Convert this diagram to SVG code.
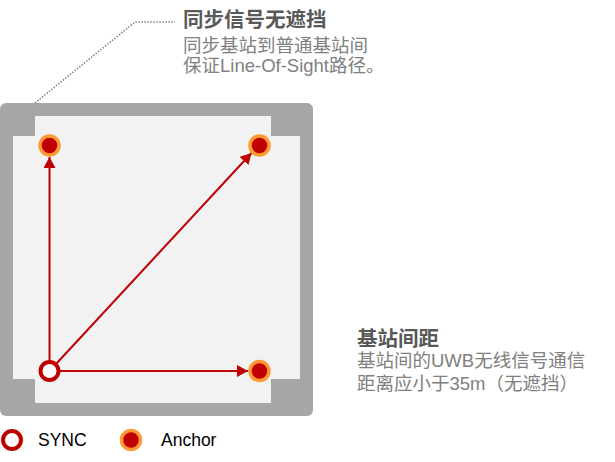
<svg xmlns="http://www.w3.org/2000/svg" width="615" height="462" viewBox="0 0 615 462">
<defs>
<style>
.wall{fill:#A6A6A6}
.room{fill:#F2F2F2}
.link{stroke:#C00000;stroke-width:2;fill:none}
.anchor{fill:#C00000;stroke:#FF9933;stroke-width:3.5}
.sync{fill:#FFFFFF;stroke:#C00000;stroke-width:4}
.h{font-family:"Liberation Sans","Noto Sans CJK SC",sans-serif;font-weight:bold;font-size:20.5px;fill:#595959}
.b{font-family:"Liberation Sans","Noto Sans CJK SC",sans-serif;font-size:18.5px;fill:#808080}
.lg{font-family:"Liberation Sans",Arial,sans-serif;font-size:17.5px;fill:#000}
</style>
<marker id="ah" markerWidth="12" markerHeight="12" viewBox="0 0 12 12" refX="11" refY="6" orient="auto" markerUnits="userSpaceOnUse">
<path d="M0,0 L11,6 L0,12 Z" fill="#C00000"/>
</marker>
</defs>
<g id="floor">
<rect class="wall" x="0" y="103" width="313" height="313" rx="6"/>
<rect class="room" x="35" y="116" width="236" height="287"/>
<rect class="room" x="13" y="136" width="287" height="243"/>
</g>
<g id="callout">
<polyline points="35,103 135,22 175,22" fill="none" stroke="#808080" stroke-width="1.5" stroke-dasharray="1.5,1.5"/>
<text class="h" x="183" y="27">同步信号无遮挡</text>
<text class="b" x="183" y="52">同步基站到普通基站间</text>
<text class="b" x="183" y="72">保证Line-Of-Sight路径。</text>
</g>
<g id="spacing-note">
<text class="h" x="357" y="346">基站间距</text>
<text class="b" x="357" y="367">基站间的UWB无线信号通信</text>
<text class="b" x="357" y="390">距离应小于35m（无遮挡）</text>
</g>
<g id="connectors">
<line class="link" x1="49.5" y1="362" x2="49.5" y2="157" marker-end="url(#ah)"/>
<line class="link" x1="56" y1="364" x2="251.5" y2="153" marker-end="url(#ah)"/>
<line class="link" x1="58.5" y1="371" x2="248" y2="371" marker-end="url(#ah)"/>
</g>
<g id="anchor-tl"><circle class="anchor" cx="49.5" cy="145.5" r="9.5"/></g>
<g id="anchor-tr"><circle class="anchor" cx="259.5" cy="145.5" r="9.5"/></g>
<g id="anchor-br"><circle class="anchor" cx="259.5" cy="371" r="9.5"/></g>
<g id="sync"><circle class="sync" cx="49.5" cy="371" r="9"/></g>
<g id="legend">
<circle class="sync" cx="12" cy="440" r="9"/>
<text class="lg" x="38" y="446">SYNC</text>
<circle class="anchor" cx="131" cy="440" r="9.5"/>
<text class="lg" x="161" y="446">Anchor</text>
</g>
</svg>
